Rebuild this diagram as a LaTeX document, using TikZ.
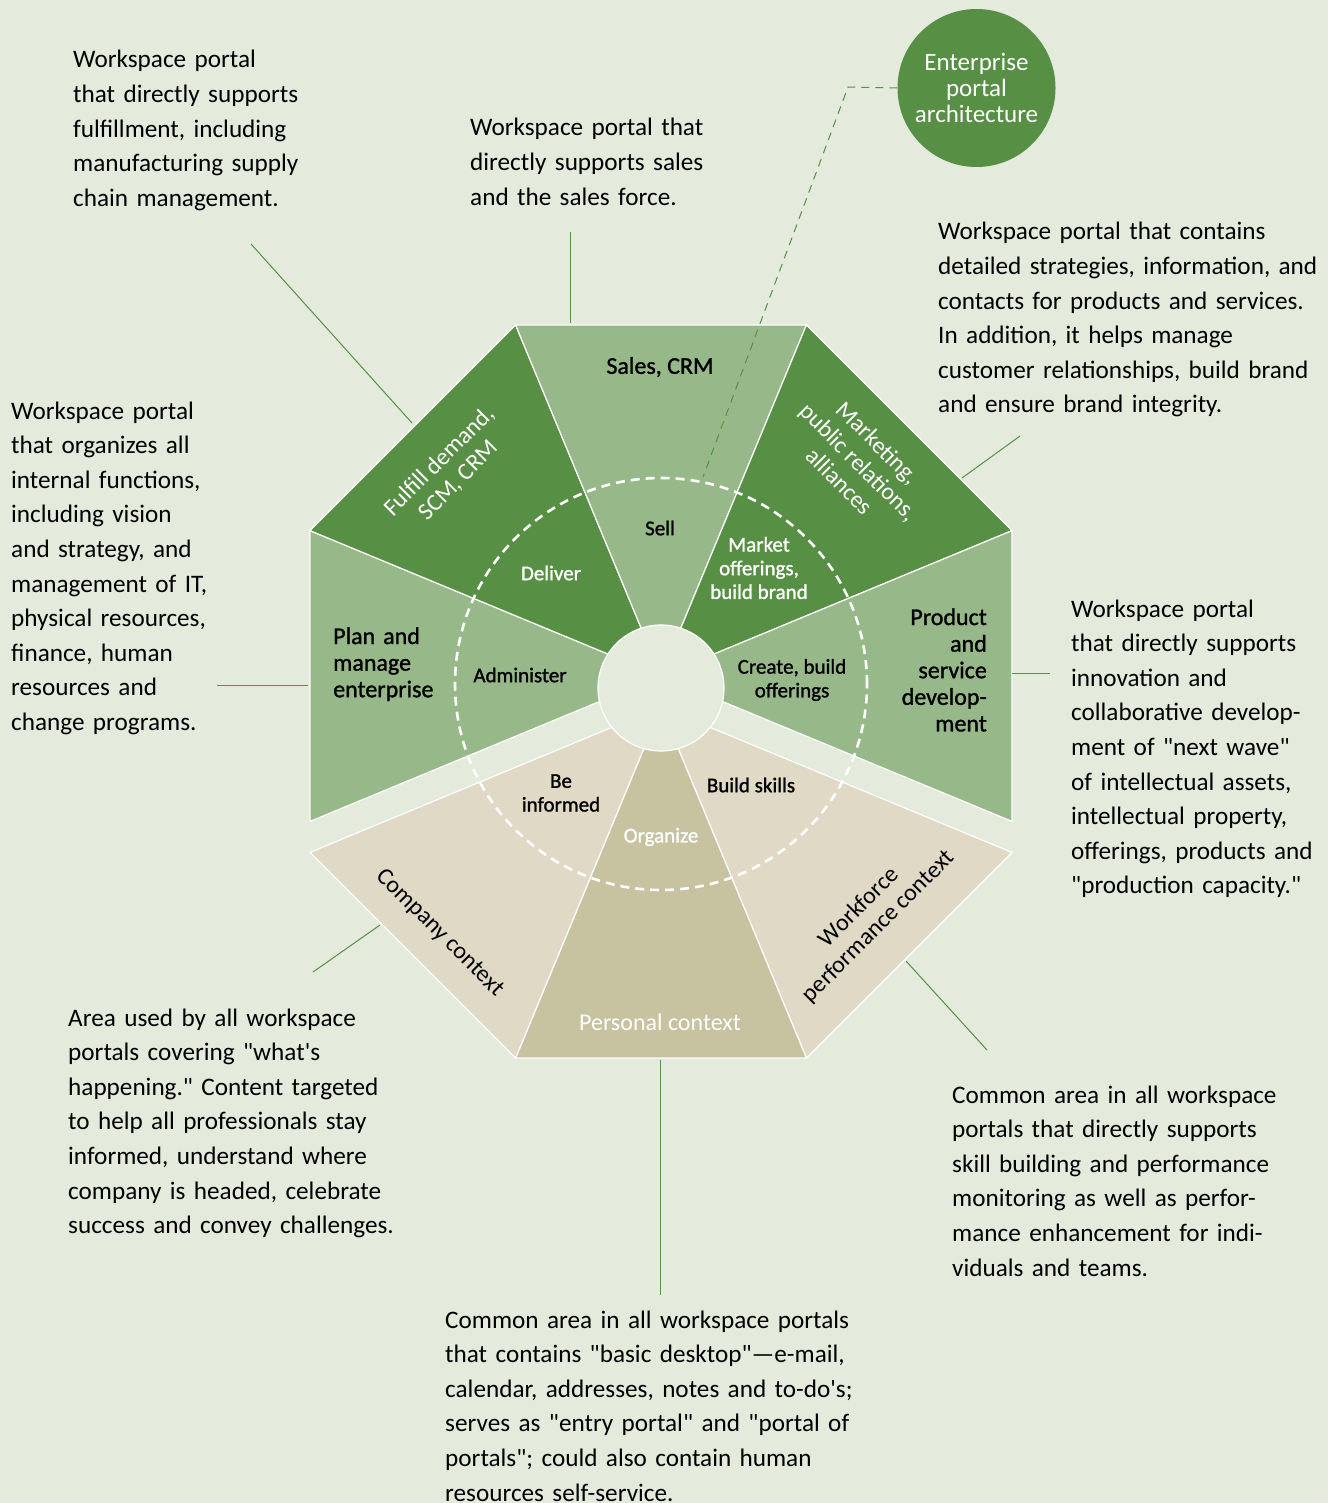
\documentclass[tikz,border=0pt]{standalone}
\usepackage{fontspec}
\setmainfont[Ligatures=TeXOff]{Carlito}
\newfontfamily\segfont[FakeBold=1.2]{Carlito}
\usetikzlibrary{positioning}

\definecolor{paper}{RGB}{228,235,221}
\definecolor{leafdark}{RGB}{87,143,69}
\definecolor{leaflight}{RGB}{151,185,138}
\definecolor{sandlight}{RGB}{224,217,198}
\definecolor{sanddark}{RGB}{199,194,160}

\tikzset{
  wedge/.style={draw=white, line width=1.2pt, line join=miter},
  note/.style={anchor=base west, inner sep=0pt, text width=420pt, align=left,
    font=\fontsize{25.2}{34.6}\selectfont},
  seglabel/.style={inner sep=0pt, align=center, font=\segfont\fontsize{24}{26.6}\selectfont},
  innerlabel/.style={inner sep=0pt, align=center, font=\segfont\fontsize{21}{23.7}\selectfont},
  leader/.style={draw=leafdark, line width=1pt},
  link/.style={draw=leafdark, line width=1pt, dash pattern=on 8pt off 6pt},
  ring/.style={draw=white, line width=2.6pt, dash pattern=on 9pt off 6pt},
}

\begin{document}
\begin{tikzpicture}[x=1pt, y=-1pt]
    \useasboundingbox (0,0) rectangle (1328,1503);
    \clip (0,0) rectangle (1328,1503);
    \fill[paper] (0,0) rectangle (1328,1503);

    % upper five segments of the octagon
    \begin{scope}[shift={(661,676)}]
    \foreach \a/\col in {157.5/leaflight, 202.5/leafdark, 247.5/leaflight, 292.5/leafdark, 337.5/leaflight}
    \filldraw[fill=\col, wedge] (0,0) -- (\a:380) -- (\a+45:380) -- cycle;
    \end{scope}

    % lower three segments, pushed down a little
    \begin{scope}[shift={(661,707)}]
    \foreach \a/\col in {22.5/sandlight, 67.5/sanddark, 112.5/sandlight}
    \filldraw[fill=\col, wedge] (0,0) -- (\a:380) -- (\a+45:380) -- cycle;
    \end{scope}

    % dashed ring and the hub in the middle
    \draw[ring] (661,684) circle[radius=206pt];
    \node[circle, fill=paper, draw=white, line width=1.2pt, minimum size=126pt, inner sep=0pt] (hub) at (661,688) {};

    % the circle top right and its dashed link into the octagon
    \node[circle, fill=leafdark, minimum size=158pt, inner sep=0pt, text=white, align=center,
        font=\fontsize{25}{26.2}\selectfont] (portal) at (976.5,88) {Enterprise\\portal\\architecture};
    \coordinate (linkbend) at (848,87);
    \coordinate (linkend) at (703,477);
    \draw[link] (portal.west) -- (linkbend) -- (linkend);

    % outer labels of the segments
    \node[seglabel] (sales) at (660,367) {Sales, CRM};
    \node[seglabel, text=white, font=\fontsize{24}{27}\selectfont, rotate=45] (fulfil) at (449,471) {Fulfill demand,\\SCM, CRM};
    \node[seglabel, text=white, font=\fontsize{24}{27}\selectfont, rotate=-45] (market) at (859,462) {Marketing,\\public relations,\\alliances};
    \node[seglabel, align=left, anchor=base west, text width=130pt] (plan) at (333,644) {Plan and\\manage\\enterprise};
    \node[seglabel, align=right, anchor=base east, text width=130pt] (product) at (987,625) {Product\\and\\service\\develop-\\ment};
    \node[seglabel, font=\fontsize{24}{27}\selectfont, rotate=-45] (company) at (440,933) {Company context};
    \node[seglabel, text=white, font=\fontsize{24}{27}\selectfont] (personal) at (660,1022) {Personal context};
    \node[seglabel, font=\fontsize{24}{27}\selectfont, rotate=45] (workforce) at (869,917) {Workforce\\performance context};

    % labels inside the dashed ring
    \node[innerlabel] (sell) at (660,528) {Sell};
    \node[innerlabel, text=white] (deliver) at (551,573) {Deliver};
    \node[innerlabel, text=white] (offer) at (759,568) {Market\\offerings,\\build brand};
    \node[innerlabel] (admin) at (520,675) {Administer};
    \node[innerlabel] (create) at (792,680) {Create, build\\offerings};
    \node[innerlabel] (inform) at (561,793) {Be\\informed};
    \node[innerlabel, text=white] (organize) at (661,837) {Organize};
    \node[innerlabel] (skills) at (751,785) {Build skills};

    % the notes round the octagon
    \node[note] (fulfilnote) at (73,68) {Workspace portal\\that directly supports\\fulfillment, including\\manufacturing supply\\chain management.};
    \node[note] (salesnote) at (470,136) {Workspace portal that\\directly supports sales\\and the sales force.};
    \node[note] (marketnote) at (938,240) {Workspace portal that contains\\detailed strategies, information, and\\contacts for products and services.\\In addition, it helps manage\\customer relationships, build brand\\and ensure brand integrity.};
    \node[note] (plannote) at (11,419) {Workspace portal\\that organizes all\\internal functions,\\including vision\\and strategy, and\\management of IT,\\physical resources,\\finance, human\\resources and\\change programs.};
    \node[note] (productnote) at (1071,617) {Workspace portal\\that directly supports\\innovation and\\collaborative develop-\\ment of "next wave"\\of intellectual assets,\\intellectual property,\\offerings, products and\\"production capacity."};
    \node[note] (companynote) at (68,1026) {Area used by all workspace\\portals covering "what's\\happening." Content targeted\\to help all professionals stay\\informed, understand where\\company is headed, celebrate\\success and convey challenges.};
    \node[note] (workforcenote) at (952,1103) {Common area in all workspace\\portals that directly supports\\skill building and performance\\monitoring as well as perfor-\\mance enhancement for indi-\\viduals and teams.};
    \node[note] (personalnote) at (445,1328) {Common area in all workspace portals\\that contains "basic desktop"—e-mail,\\calendar, addresses, notes and to-do's;\\serves as "entry portal" and "portal of\\portals"; could also contain human\\resources self-service.};

    % leader lines from the notes to the segments
    \coordinate (fulfilA) at (251,244);   \coordinate (fulfilB) at (412,423);
    \coordinate (salesA) at (570,232);    \coordinate (salesB) at (570,323);
    \coordinate (marketA) at (1020,436);  \coordinate (marketB) at (962,478);
    \coordinate (planA) at (217,685);     \coordinate (planB) at (308,685);
    \coordinate (productA) at (1050,673); \coordinate (productB) at (1012,673);
    \coordinate (companyA) at (313,972);  \coordinate (companyB) at (380,925);
    \coordinate (personalA) at (660,1295);\coordinate (personalB) at (660,1060);
    \coordinate (workforceA) at (987,1050);\coordinate (workforceB) at (906,961);
    \foreach \n in {fulfil, sales, market, plan, product, company, personal, workforce}
    \draw[leader] (\n A) -- (\n B);
\end{tikzpicture}
\end{document}
